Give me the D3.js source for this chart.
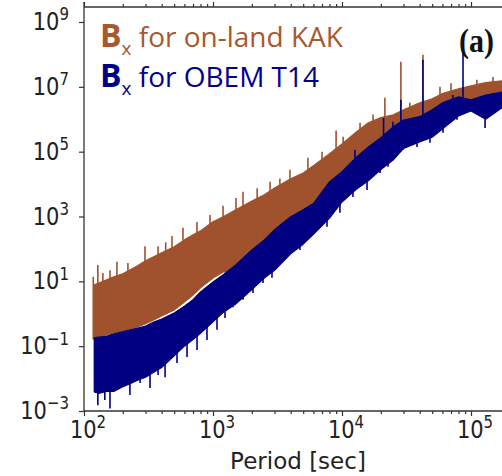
<!DOCTYPE html>
<html>
<head>
<meta charset="utf-8">
<script src="https://cdn.jsdelivr.net/npm/d3@7"></script>
<style>
  body { margin: 0; background: #fff; }
  svg { display: block; }
</style>
</head>
<body>
<div id="chart"></div>
<script>
// periods (sec) where the envelopes of the two spectra were read
var periods = [120,130,150,170,200,230,260,300,350,400,500,600,700,800,1000,1200,1500,2000,2500,3000,
               4000,5000,6000,8000,10000,13000,16000,20000,25000,30000,40000,50000,60000,80000,100000,130000,180000];

// Bx on-land KAK : upper / lower envelope of the solid band
var kakUpper = [7.8,8.9,1.12e1,1.38e1,1.7e1,2.3e1,3.0e1,4.3e1,5.8e1,7.6e1,1.17e2,1.9e2,2.75e2,3.6e2,6.9e2,9.8e2,1.6e3,3.0e3,4.7e3,7.6e3,
                1.45e4,2.2e4,3.7e4,8.7e4,1.74e5,4.1e5,7.8e5,1.12e6,1.38e6,1.95e6,3.2e6,4.3e6,6.2e6,8.7e6,1.07e7,1.35e7,1.55e7];
var kakLower = [1.6e-1,1.9e-1,2.2e-1,2.6e-1,3.0e-1,3.4e-1,3.9e-1,4.9e-1,6.5e-1,8.5e-1,1.3,2.3,3.8,6.3,1.26e1,1.95e1,2.0e1,5.9e1,1.2e2,2.5e2,
                6.2e2,1.0e3,1.6e3,7.4e3,1.5e4,4.4e4,8.9e4,1.7e5,3.7e5,6.0e5,7.4e5,1.23e6,2.0e6,3.1e6,2.5e6,3.5e6,4.5e6];

// Bx OBEM T14 : upper / lower envelope of the solid band
var t14Upper = [1.8e-1,1.9e-1,2.0e-1,2.4e-1,2.8e-1,3.2e-1,3.6e-1,4.2e-1,5.6e-1,6.9e-1,1.05,1.7,2.7,4.7,9.5,1.6e1,3.2e1,9.3e1,1.9e2,3.9e2,
                9.8e2,1.6e3,2.5e3,1.17e4,2.4e4,6.9e4,1.4e5,2.7e5,5.9e5,9.5e5,1.2e6,1.95e6,3.2e6,4.9e6,4.0e6,5.6e6,7.1e6];
var t14Lower = [4.0e-3,3.5e-3,4.0e-3,4.0e-3,5.6e-3,7.1e-3,8.9e-3,1.1e-2,1.6e-2,2.2e-2,5.0e-2,1.0e-1,1.6e-1,2.5e-1,5.6e-1,1.1,2.0,5.6,1.26e1,2.2e1,
                7.1e1,1.4e2,2.8e2,8.9e2,2.8e3,7.1e3,1.26e4,2.8e4,5.6e4,1.26e5,2.0e5,2.8e5,5.0e5,1.26e6,1.8e6,1.0e6,2.5e6];

// isolated spikes
var kakSpikeP  = [118,128,140,159,180,219,297,375,430,481,585,751,948,1196,1508,1709,2200,2770,3300,3950,5440,7000,
                  9000,10200,13800,17400,21500,28600,33600,42400,57500,70000,111000,148000];
var kakSpikeV  = [1.37e1,3.2e1,1.8e1,2.2e1,4.0e1,3.7e1,1.2e2,1.2e2,1.6e2,2.5e2,4.5e2,6.8e2,1.12e3,2.13e3,3.75e3,5.75e3,7.5e3,1.17e4,1.5e4,2.75e4,6.5e4,1.0e5,
                  4.5e5,2.9e5,7.8e5,1.4e6,4.6e6,5.9e7,3.2e6,9.8e7,1.0e7,1.3e7,1.65e7,2.0e7];
var t14UpP     = [12600,21000,24800,28600,42400,72400,86700,148000];
var t14UpV     = [1.14e5,1.1e6,8.3e5,4.0e6,6.8e7,5.6e6,2.3e8,6.5e6];
var t14DownP   = [122,128,145,159,201,227,272,325,375,425,526,629,752,898,1074,1239,1429,1709,2042,2441,2866,3426,
                  4093,4721,5445,5848,7650,9640,12160,15630,19720,22750,29730,38150,48100,60650,77900,128500];
var t14DownV   = [3.6e-3,1.5e-3,2.2e-3,1.2e-3,5.5e-3,3.1e-3,7.3e-3,5.1e-3,1.3e-2,1.1e-2,3.0e-2,4.6e-2,7.6e-2,1.55e-1,3.2e-1,7.4e-1,1.6,2.7,4.4,8.9,1.3e1,4.6e1,
                  7.5e1,9.3e1,2.3e2,3.1e2,4.8e2,1.3e3,4.0e3,6.6e3,2.2e4,3.4e4,1.14e5,1.4e5,1.9e5,3.8e5,9.6e5,5.4e5];

var xMajor = [1e2,1e3,1e4,1e5];
var xExp   = ["2","3","4","5"];
var yMajor = [1e-3,1e-1,1e1,1e3,1e5,1e7,1e9];
var yExp   = ["\u22123","\u22121","1","3","5","7","9"];

var kakColor = "#a0522d";
var t14Color = "#000080";

var width = 502, height = 476;
var svg = d3.select("#chart").append("svg").attr("width", width).attr("height", height);
svg.append("rect").attr("width", width).attr("height", height).attr("fill", "#fff");

var plotLeft = 84, plotRight = 502, plotTop = 7, plotBottom = 411;
var x = d3.scaleLog().domain([1e2, 1e5]).range([84, 471]);
var y = d3.scaleLog().domain([1e-3, 1e9]).range([411, 22]);

svg.append("clipPath").attr("id", "clip").append("rect")
   .attr("x", plotLeft + 1).attr("y", plotTop).attr("width", plotRight - plotLeft).attr("height", plotBottom - plotTop);

var plot = svg.append("g").attr("clip-path", "url(#clip)");

function envAt(vals, p) {
    // log-log interpolation of an envelope at period p
    var lp = Math.log10(p);
    for (var i = 0; i < periods.length - 1; i++) {
        var a = Math.log10(periods[i]), b = Math.log10(periods[i + 1]);
        if (lp >= a && lp <= b) {
            var t = (lp - a) / (b - a);
            return Math.pow(10, Math.log10(vals[i]) * (1 - t) + Math.log10(vals[i + 1]) * t);
        }
    }
    return vals[lp < Math.log10(periods[0]) ? 0 : vals.length - 1];
}

function drawBand(upper, lower, color) {
    var area = d3.area()
        .x(function(d, i) { return x(periods[i]); })
        .y0(function(d, i) { return y(lower[i]); })
        .y1(function(d, i) { return y(upper[i]); });
    plot.append("path").datum(periods).attr("d", area)
        .attr("fill", color).attr("stroke", color).attr("stroke-width", 1.2).attr("stroke-linejoin", "round");
}

function drawSpikes(ps, vs, ref, color, w) {
    plot.selectAll(null).data(ps).enter().append("line")
        .attr("x1", function(d) { return x(d); })
        .attr("x2", function(d) { return x(d); })
        .attr("y1", function(d, i) { return y(vs[i]); })
        .attr("y2", function(d) { return y(envAt(ref, d)); })
        .attr("stroke", color).attr("stroke-width", w);
}

drawBand(kakUpper, kakLower, kakColor);
drawSpikes(kakSpikeP, kakSpikeV, kakLower, kakColor, 1.6);
drawBand(t14Upper, t14Lower, t14Color);
drawSpikes(t14UpP, t14UpV, t14Lower, t14Color, 1.6);
drawSpikes(t14DownP, t14DownV, t14Upper, t14Color, 1.6);

// axes
var axisColor = "#333";
var xMinor = [];
[1e2, 1e3, 1e4].forEach(function(dec) { for (var k = 2; k <= 9; k++) xMinor.push(dec * k); });

function styleAxis(g) {
    g.select(".domain").remove();
    g.selectAll("line").attr("stroke", axisColor).attr("stroke-width", 1.2);
    g.selectAll("text").remove();
}
svg.append("g").attr("transform", "translate(0," + plotBottom + ")")
   .call(d3.axisBottom(x).tickValues(xMajor).tickSize(5)).call(styleAxis);
svg.append("g").attr("transform", "translate(0," + plotBottom + ")")
   .call(d3.axisBottom(x).tickValues(xMinor).tickSize(3)).call(styleAxis);
svg.append("g").attr("transform", "translate(0," + plotTop + ")")
   .call(d3.axisTop(x).tickValues(xMajor).tickSize(5)).call(styleAxis);
svg.append("g").attr("transform", "translate(0," + plotTop + ")")
   .call(d3.axisTop(x).tickValues(xMinor).tickSize(3)).call(styleAxis);
svg.append("g").attr("transform", "translate(" + plotLeft + ",0)")
   .call(d3.axisLeft(y).tickValues(yMajor).tickSize(5)).call(styleAxis);

svg.append("line").attr("x1", plotLeft).attr("x2", plotLeft).attr("y1", 2).attr("y2", plotBottom)
   .attr("stroke", axisColor).attr("stroke-width", 1.3);
svg.append("line").attr("x1", plotLeft).attr("x2", plotRight).attr("y1", plotBottom).attr("y2", plotBottom)
   .attr("stroke", axisColor).attr("stroke-width", 1.3);
svg.append("line").attr("x1", plotLeft).attr("x2", plotRight).attr("y1", plotTop).attr("y2", plotTop)
   .attr("stroke", axisColor).attr("stroke-width", 1.3);

// tick labels (10^n)
function powLabel(px, py, exp, anchor) {
    var t = svg.append("g").attr("transform", "translate(" + px + "," + py + ") scale(1,1.2)")
        .append("text").attr("text-anchor", anchor)
        .attr("font-family", "DejaVu Sans").attr("fill", "#222");
    t.append("tspan").attr("font-size", 21).text("10");
    t.append("tspan").attr("font-size", 15).attr("dy", -8).text(exp);
}
xMajor.forEach(function(v, i) { powLabel(x(v) + 4, 438, xExp[i], "middle"); });
yMajor.forEach(function(v, i) { powLabel(69, y(v) + 8, yExp[i], "end"); });

svg.append("text").attr("x", 298).attr("y", 469).attr("text-anchor", "middle")
   .attr("font-family", "DejaVu Sans").attr("font-size", 23).attr("fill", "#222").text("Period [sec]");

// legend
function legendLine(py, label, color) {
    var t = svg.append("text").attr("x", 100).attr("y", py)
        .attr("font-family", "Open Sans").attr("fill", color);
    t.append("tspan").attr("font-size", 32).attr("font-weight", "bold").text("B");
    t.append("tspan").attr("font-size", 19).attr("dy", 8).text("x");
    t.append("tspan").attr("font-size", 28).attr("dy", -8).text(" " + label);
}
legendLine(47, "for on-land KAK", "#a9582d");
legendLine(87, "for OBEM T14", "#00008b");

svg.append("g").attr("transform", "translate(459,52) scale(1,1.15)")
   .append("text").attr("font-family", "Liberation Serif").attr("font-weight", "bold")
   .attr("font-size", 30).attr("fill", "#111").text("(a)");
</script>
</body>
</html>
